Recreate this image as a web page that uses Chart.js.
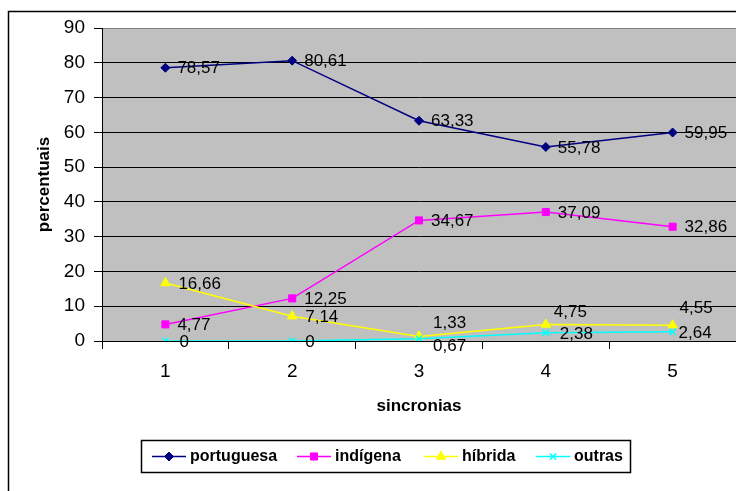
<!DOCTYPE html>
<html>
<head>
<meta charset="utf-8">
<script src="https://cdn.jsdelivr.net/npm/chart.js@4/dist/chart.umd.min.js"></script>
<style>
  html, body { margin: 0; padding: 0; background: #ffffff; overflow: hidden; }
  #wrap { width: 736px; height: 491px; position: relative; }
  #chart { display: block; }
</style>
</head>
<body>
<div id="wrap"><canvas id="chart" width="736" height="491"></canvas></div>
<script>
// Percentuais por sincronia
const categories = ['1', '2', '3', '4', '5'];
const seriesNames = ['portuguesa', 'indígena', 'híbrida', 'outras'];
const portuguesa = [78.57, 80.61, 63.33, 55.78, 59.95];
const indigena = [4.77, 12.25, 34.67, 37.09, 32.86];
const hibrida = [16.66, 7.14, 1.33, 4.75, 4.55];
const outras = [0, 0, 0.67, 2.38, 2.64];
const yTickValues = [0, 10, 20, 30, 40, 50, 60, 70, 80, 90];

const FONT = "'Liberation Sans', Arial, Helvetica, sans-serif";

// value-label nudges [dx, dy] relative to each point (default: to the right)
const labelShift = {
  2: [[13, 1], [13, 1], [14, -13], [8, -12], [7, -17]],
  3: [[14, 1], [13, 1], [14, 8], [14, 2], [6, 1]]
};

const styles = [
  { color: '#000080', pointStyle: 'rectRot', radius: 4.5 },
  { color: '#FF00FF', pointStyle: 'rect', radius: 5 },
  { color: '#FFFF00', pointStyle: 'triangle', radius: 5.5 },
  { color: '#00FFFF', pointStyle: 'crossRot', radius: 4.5 }
];

const seriesValues = [portuguesa, indigena, hibrida, outras];

const datasets = seriesValues.map((vals, i) => ({
  label: seriesNames[i],
  data: vals,
  borderColor: styles[i].color,
  backgroundColor: styles[i].color,
  pointBackgroundColor: styles[i].color,
  pointBorderColor: styles[i].color,
  pointStyle: styles[i].pointStyle,
  pointRadius: styles[i].radius,
  pointHoverRadius: styles[i].radius,
  pointBorderWidth: i === 3 ? 1.5 : 1,
  borderWidth: 1.5,
  tension: 0,
  fill: false,
  order: seriesValues.length - i
}));

const fmt = v => String(v).replace('.', ',');

const framePlugin = {
  id: 'frame',
  beforeDraw(chart) {
    const { ctx, chartArea: a } = chart;
    ctx.save();
    ctx.fillStyle = '#ffffff';
    ctx.fillRect(0, 0, chart.width, chart.height);
    ctx.strokeStyle = '#000000';
    ctx.lineWidth = 1.5;
    ctx.strokeRect(8.5, 11.5, chart.width + 20, chart.height + 20);
    ctx.fillStyle = '#C0C0C0';
    ctx.fillRect(a.left, a.top, a.right - a.left, a.bottom - a.top);
    ctx.restore();
  }
};

const valueLabels = {
  id: 'valueLabels',
  afterDatasetsDraw(chart) {
    const { ctx } = chart;
    ctx.save();
    ctx.font = '17px ' + FONT;
    ctx.fillStyle = '#000000';
    ctx.textAlign = 'left';
    ctx.textBaseline = 'middle';
    chart.data.datasets.forEach((ds, di) => {
      const meta = chart.getDatasetMeta(di);
      meta.data.forEach((pt, j) => {
        const sh = (labelShift[di] && labelShift[di][j]) || [12, 1];
        ctx.fillText(fmt(ds.data[j]), pt.x + sh[0], pt.y + sh[1]);
      });
    });
    ctx.restore();
  }
};

const boxedLegend = {
  id: 'boxedLegend',
  afterDraw(chart) {
    const { ctx } = chart;
    const box = { x: 141.5, y: 440.5, w: 489, h: 32 };
    const cy = box.y + box.h / 2;
    const itemsX = [152, 297, 424, 536];
    ctx.save();
    ctx.fillStyle = '#ffffff';
    ctx.fillRect(box.x, box.y, box.w, box.h);
    ctx.strokeStyle = '#000000';
    ctx.lineWidth = 1.5;
    ctx.strokeRect(box.x, box.y, box.w, box.h);
    ctx.font = 'bold 16px ' + FONT;
    ctx.textBaseline = 'middle';
    ctx.textAlign = 'left';
    chart.data.datasets.forEach((ds, i) => {
      const x0 = itemsX[i];
      ctx.strokeStyle = ds.borderColor;
      ctx.lineWidth = 1.5;
      ctx.beginPath();
      ctx.moveTo(x0, cy);
      ctx.lineTo(x0 + 34, cy);
      ctx.stroke();
      ctx.fillStyle = ds.pointBackgroundColor;
      ctx.strokeStyle = ds.pointBorderColor;
      ctx.lineWidth = ds.pointBorderWidth;
      Chart.helpers.drawPoint(ctx, {
        pointStyle: ds.pointStyle, radius: ds.pointRadius, rotation: 0, borderWidth: ds.pointBorderWidth
      }, x0 + 17, cy);
      ctx.fillStyle = '#000000';
      ctx.fillText(ds.label, x0 + 38, cy);
    });
    ctx.restore();
  }
};

new Chart(document.getElementById('chart'), {
  type: 'line',
  data: { labels: categories, datasets },
  plugins: [framePlugin, valueLabels, boxedLegend],
  options: {
    responsive: false,
    animation: false,
    events: [],
    layout: { autoPadding: false, padding: { top: 28, right: 0, bottom: 0, left: 0 } },
    plugins: { legend: { display: false }, tooltip: { enabled: false }, title: { display: false } },
    scales: {
      x: {
        type: 'category',
        offset: true,
        grid: { display: true, drawOnChartArea: false, drawTicks: true, tickLength: 8, color: '#000000', offset: true },
        border: { display: true, color: '#000000', width: 1 },
        ticks: { color: '#000000', font: { family: FONT, size: 19 }, padding: 11, maxRotation: 0 },
        title: { display: true, text: 'sincronias', color: '#000000', font: { family: FONT, size: 17, weight: 'bold' }, padding: { top: 0, bottom: 74 } },
        afterFit(scale) {
          scale.height = 150;
          scale.paddingLeft = 0;
          scale.paddingRight = 0;
        }
      },
      y: {
        min: 0,
        max: 90,
        afterBuildTicks(scale) { scale.ticks = yTickValues.map(v => ({ value: v })); },
        grid: {
          color: ctx => (ctx.tick && ctx.tick.value === 90 ? '#808080' : '#000000'),
          tickColor: '#000000',
          lineWidth: 1,
          tickLength: 8,
          drawTicks: true
        },
        border: { display: true, color: '#000000', width: 1 },
        ticks: { color: '#000000', font: { family: FONT, size: 19 }, padding: 9, stepSize: 10 },
        title: { display: true, text: 'percentuais', color: '#000000', font: { family: FONT, size: 17, weight: 'bold' }, padding: { top: 34, bottom: 0 } },
        afterFit(scale) { scale.width = 102; }
      }
    }
  }
});
</script>
</body>
</html>
